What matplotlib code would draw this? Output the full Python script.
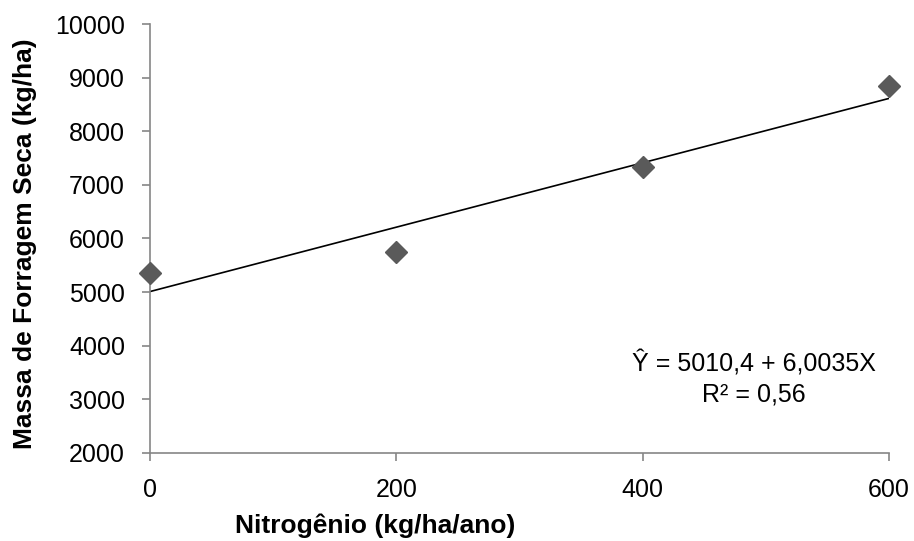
import matplotlib
matplotlib.use("Agg")
import matplotlib.pyplot as plt
import numpy as np

plt.rcParams['font.family'] = ['Liberation Sans', 'DejaVu Sans']

# dados
nitrogenio = [0, 200, 400, 600]
massa_seca = [5362, 5748, 7333, 8844]
intercepto = 5010.4
inclinacao = 6.0035
linha_eq = "Ŷ = 5010,4 + 6,0035X"
linha_r2 = "R² = 0,56"

fig = plt.figure(figsize=(9.14, 5.41), dpi=100)
ax = fig.add_axes([0.1641, 0.1627, 0.8085, 0.7929])

xs = np.array([0, 600])
ax.plot(xs, intercepto + inclinacao * xs, color='black', linewidth=1.2, zorder=2)
ax.plot(nitrogenio, massa_seca, linestyle='none', marker='D', markersize=11,
        color='#5a5a5a', clip_on=False, zorder=3)

ax.set_xlim(0, 600)
ax.set_ylim(2000, 10000)
ax.set_xticks([0, 200, 400, 600])
ax.set_yticks(range(2000, 10001, 1000))

for s in ['top', 'right']:
    ax.spines[s].set_visible(False)
for s in ['left', 'bottom']:
    ax.spines[s].set_color('#868686')
    ax.spines[s].set_linewidth(1.2)

ax.tick_params(axis='both', direction='out', length=6, width=1.2,
               color='#868686', labelsize=18, labelcolor='black', pad=12)

# rótulos dos eixos
fig.text(0.410, 0.0148, "Nitrogênio (kg/ha/ano)", fontsize=19, fontweight='bold',
         ha='center', va='baseline')
fig.text(0.027, 0.549, "Massa de Forragem Seca (kg/ha)", fontsize=19,
         fontweight='bold', rotation=90, ha='center', va='center')

# equação da regressão
ax.text(0.817, 0.189, linha_eq, transform=ax.transAxes, ha='center',
        va='baseline', fontsize=18)
ax.text(0.817, 0.119, linha_r2, transform=ax.transAxes, ha='center',
        va='baseline', fontsize=18)

plt.savefig('out.png', dpi=100)
plt.close()
